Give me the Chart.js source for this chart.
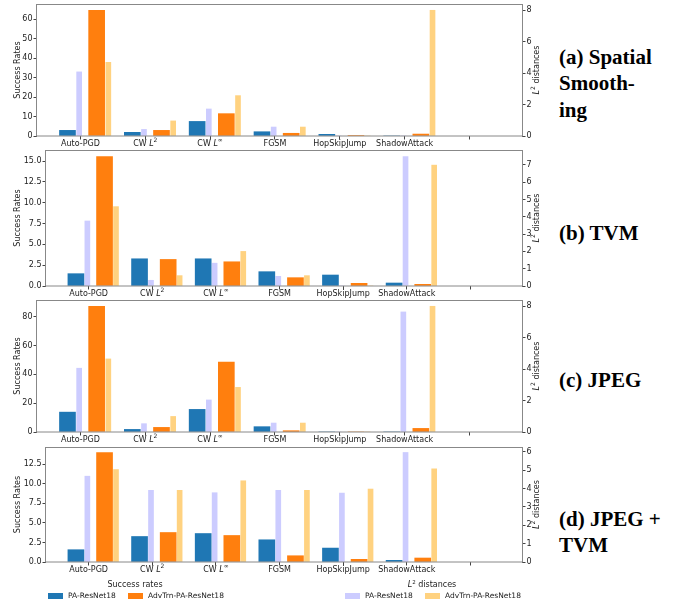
<!DOCTYPE html>
<html>
<head>
<meta charset="utf-8">
<script src="https://cdn.jsdelivr.net/npm/chart.js@4"></script>
<style>
  body { margin: 0; background: #fff; width: 673px; height: 605px; overflow: hidden; position: relative; font-family: 'DejaVu Sans', sans-serif; }
  canvas { position: absolute; left: 0; }
  .caption { position: absolute; left: 559px; font: bold 21px 'Liberation Serif', serif; line-height: 26.5px; color: #000; white-space: nowrap; }
  .leg-title { position: absolute; top: 580px; font-size: 8px; line-height: 10px; color: #222; transform: translateX(-50%); white-space: nowrap; }
  .leg-title sup { font-size: 5.5px; vertical-align: 3px; line-height: 0; }
  .leg-box { position: absolute; top: 593px; width: 15px; height: 6px; }
  .leg-text { position: absolute; top: 591px; font-size: 7.5px; line-height: 10px; color: #222; white-space: nowrap; }
</style>
</head>
<body>
<canvas id="c1" width="545" height="160" style="top:-4px"></canvas>
<canvas id="c2" width="545" height="164" style="top:142px"></canvas>
<canvas id="c3" width="545" height="160" style="top:292px"></canvas>
<canvas id="c4" width="545" height="143" style="top:439px"></canvas>

<div class="caption" style="top:43.7px">(a) Spatial<br>Smooth-<br>ing</div>
<div class="caption" style="top:219.7px">(b) TVM</div>
<div class="caption" style="top:366.7px">(c) JPEG</div>
<div class="caption" style="top:505.7px">(d) JPEG +<br>TVM</div>

<div class="leg-title" style="left:135px">Success rates</div>
<div class="leg-box" style="left:48px;background:#1f77b4"></div>
<div class="leg-text" style="left:68px">PA-ResNet18</div>
<div class="leg-box" style="left:128px;background:#ff7f0e"></div>
<div class="leg-text" style="left:148px">AdvTrn-PA-ResNet18</div>

<div class="leg-title" style="left:432px"><i>L</i><sup>2</sup> distances</div>
<div class="leg-box" style="left:345px;background:#ccccff"></div>
<div class="leg-text" style="left:365px">PA-ResNet18</div>
<div class="leg-box" style="left:425px;background:#ffd280"></div>
<div class="leg-text" style="left:445px">AdvTrn-PA-ResNet18</div>

<script>
const categories = ['Auto-PGD', 'CW L^2', 'CW L^∞', 'FGSM', 'HopSkipJump', 'ShadowAttack', ''];

// (a) spatial smoothing
const smoothRatePA = [2.9, 1.9, 7.5, 2.2, 0.86, 0];
const smoothRateAdv = [64.7, 2.9, 11.5, 1.4, 0.3, 1.0];
const smoothDistPA = [4.08, 0.42, 1.72, 0.57, 0, 0];
const smoothDistAdv = [4.69, 0.96, 2.57, 0.57, 0, 8.0];
const smoothLeftTicks = [0, 10, 20, 30, 40, 50, 60];
const smoothRightTicks = [0, 2, 4, 6, 8];

// (b) TVM
const tvmRatePA = [1.48, 3.27, 3.27, 1.72, 1.32, 0.36];
const tvmRateAdv = [15.56, 3.19, 2.91, 1.0, 0.32, 0.2];
const tvmDistPA = [3.76, 0.33, 1.32, 0.56, 0, 7.49];
const tvmDistAdv = [4.59, 0.6, 2.0, 0.6, 0, 6.99];
const tvmLeftTicks = [0, 2.5, 5, 7.5, 10, 12.5, 15];
const tvmRightTicks = [0, 1, 2, 3, 4, 5, 6, 7];

// (c) JPEG
const jpegRatePA = [13.8, 1.8, 15.7, 3.7, 0, 0];
const jpegRateAdv = [87.3, 3.2, 48.6, 0.9, 0, 2.5];
const jpegDistPA = [4.06, 0.53, 2.04, 0.57, 0, 7.64];
const jpegDistAdv = [4.65, 0.99, 2.84, 0.57, 0, 8.0];
const jpegLeftTicks = [0, 20, 40, 60, 80];
const jpegRightTicks = [0, 2, 4, 6, 8];

// (d) JPEG + TVM
const bothRatePA = [1.57, 3.26, 3.64, 2.84, 1.78, 0.21];
const bothRateAdv = [14.0, 3.77, 3.39, 0.8, 0.34, 0.51];
const bothDistPA = [4.67, 3.9, 3.77, 3.9, 3.75, 5.96];
const bothDistAdv = [5.03, 3.9, 4.42, 3.9, 3.97, 5.07];
const bothLeftTicks = [0, 2.5, 5, 7.5, 10, 12.5];
const bothRightTicks = [0, 1, 2, 3, 4, 5, 6];

const panels = [
  { id: 'c1', axisWidth: 37, rate: [smoothRatePA, smoothRateAdv], dist: [smoothDistPA, smoothDistAdv], leftTicks: smoothLeftTicks, rightTicks: smoothRightTicks },
  { id: 'c2', axisWidth: 46, rate: [tvmRatePA, tvmRateAdv], dist: [tvmDistPA, tvmDistAdv], leftTicks: tvmLeftTicks, rightTicks: tvmRightTicks },
  { id: 'c3', axisWidth: 37, rate: [jpegRatePA, jpegRateAdv], dist: [jpegDistPA, jpegDistAdv], leftTicks: jpegLeftTicks, rightTicks: jpegRightTicks },
  { id: 'c4', axisWidth: 46, rate: [bothRatePA, bothRateAdv], dist: [bothDistPA, bothDistAdv], leftTicks: bothLeftTicks, rightTicks: bothRightTicks },
];

const FONT = "'DejaVu Sans', sans-serif";
const TEXT = '#222';

// splits "CW L^2" into plain / italic letter / superscript / rest
function richParts(text, size) {
  const m = text.match(/^(.*?)([A-Za-z])\^(\S)(.*)$/);
  if (!m) return [{ t: text, font: `${size}px ${FONT}`, dy: 0 }];
  return [
    { t: m[1], font: `${size}px ${FONT}`, dy: 0 },
    { t: m[2], font: `italic ${size}px ${FONT}`, dy: 0 },
    { t: m[3], font: `${size * 0.75}px ${FONT}`, dy: -size * 0.45 },
    { t: m[4], font: `${size}px ${FONT}`, dy: 0 },
  ];
}

function drawRich(ctx, text, cx, cy, size) {
  const parts = richParts(text, size);
  let total = 0;
  parts.forEach(p => { ctx.font = p.font; p.w = ctx.measureText(p.t).width; total += p.w; });
  let x = cx - total / 2;
  ctx.textAlign = 'left';
  ctx.textBaseline = 'middle';
  parts.forEach(p => { ctx.font = p.font; ctx.fillText(p.t, x, cy + p.dy); x += p.w; });
}

const decorations = {
  id: 'decorations',
  afterDraw(chart) {
    const { ctx, chartArea: a } = chart;
    ctx.save();
    // spines
    ctx.strokeStyle = '#888';
    ctx.lineWidth = 1;
    ctx.strokeRect(Math.round(a.left) - 0.5, Math.round(a.top) + 0.5, Math.round(a.right - a.left) + 1, Math.round(a.bottom - a.top) - 0.5);
    ctx.fillStyle = TEXT;
    // category labels
    const xs = chart.scales.x;
    categories.forEach((c, i) => {
      if (c) drawRich(ctx, c, xs.getPixelForValue(i), a.bottom + 8, 8);
    });
    // axis titles
    const midY = (a.top + a.bottom) / 2;
    ctx.translate(17.5, midY);
    ctx.rotate(-Math.PI / 2);
    drawRich(ctx, 'Success Rates', 0, 0, 8);
    ctx.rotate(Math.PI / 2);
    ctx.translate(537 - 17.5, 0);
    ctx.rotate(-Math.PI / 2);
    drawRich(ctx, 'L^2 distances', 0, 0, 8);
    ctx.restore();
  }
};

const series = [
  { label: 'PA-ResNet18', group: 'rate', idx: 0, axis: 'y', color: '#1f77b4', offset: -0.2, thickness: 16 },
  { label: 'PA-ResNet18', group: 'dist', idx: 0, axis: 'y1', color: '#ccccff', offset: -0.02, thickness: 5 },
  { label: 'AdvTrn-PA-ResNet18', group: 'rate', idx: 1, axis: 'y', color: '#ff7f0e', offset: 0.25, thickness: 16 },
  { label: 'AdvTrn-PA-ResNet18', group: 'dist', idx: 1, axis: 'y1', color: '#ffd280', offset: 0.43, thickness: 5 },
];

function fmt(ticks) {
  const dec = ticks.some(v => !Number.isInteger(v)) ? 1 : 0;
  return v => v.toFixed(dec);
}

function yAxis(position, ticks, max, width) {
  const f = fmt(ticks);
  return {
    position,
    min: 0,
    max,
    afterBuildTicks: s => { s.ticks = ticks.map(v => ({ value: v })); },
    afterFit: s => { s.width = width; },
    border: { display: false },
    grid: { display: true, drawOnChartArea: false, tickLength: 3.5, color: '#444' },
    ticks: { autoSkip: false, padding: 1, color: TEXT, font: { family: FONT, size: 8 }, callback: v => f(v) },
    title: { display: false }
  };
}

panels.forEach(p => {
  const datasets = series.map(s => ({
    label: s.label,
    data: p[s.group][s.idx].map((v, i) => ({ x: i + s.offset, y: v })),
    yAxisID: s.axis,
    backgroundColor: s.color,
    barThickness: s.thickness,
    grouped: false,
    borderWidth: 0
  }));
  const leftMax = Math.max(...p.rate[0], ...p.rate[1]) * 1.05;
  const rightMax = Math.max(...p.dist[0], ...p.dist[1]) * 1.05;

  new Chart(document.getElementById(p.id), {
    type: 'bar',
    data: { datasets },
    options: {
      responsive: false,
      animation: false,
      events: [],
      layout: { padding: { top: 8, left: 0, right: 0, bottom: 0 } },
      plugins: { legend: { display: false }, tooltip: { enabled: false } },
      scales: {
        x: {
          type: 'linear',
          min: -0.67,
          max: 6.81,
          offset: false,
          afterBuildTicks: s => { s.ticks = categories.map((c, i) => ({ value: i })); },
          afterFit: s => { s.height = 20; },
          border: { display: false },
          grid: { display: true, offset: false, drawOnChartArea: false, tickLength: 3.5, color: '#444' },
          ticks: { display: false }
        },
        y: yAxis('left', p.leftTicks, leftMax, p.axisWidth),
        y1: yAxis('right', p.rightTicks, rightMax, 23)
      }
    },
    plugins: [decorations]
  });
});
</script>
</body>
</html>
